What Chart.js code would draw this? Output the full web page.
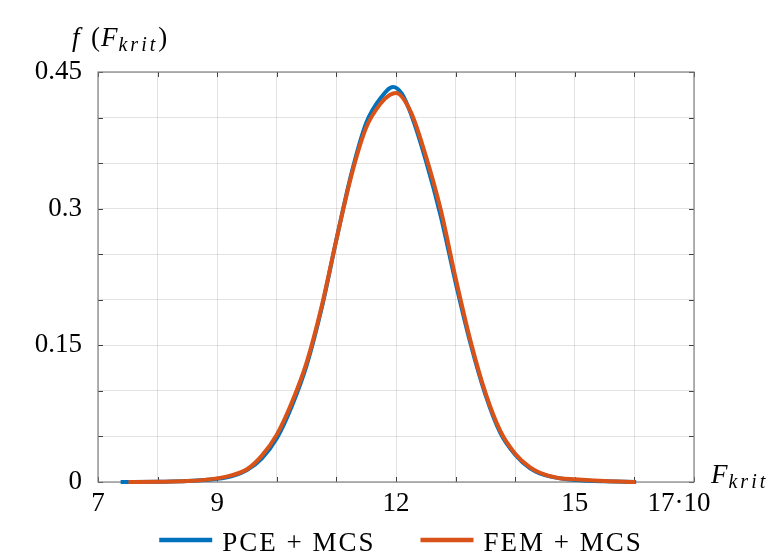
<!DOCTYPE html>
<html><head><meta charset="utf-8">
<script src="https://cdn.jsdelivr.net/npm/chart.js@4.4.1/dist/chart.umd.min.js"></script>
<style>html,body{margin:0;padding:0;background:#fff;overflow:hidden}</style>
</head><body>
<div style="width:772px;height:553px"><canvas id="c" width="772" height="553"></canvas></div>
<script>
// ---- data ----
const pceX = [7.38, 8.0, 8.5, 9.0, 9.25, 9.5, 9.75, 10.0, 10.25, 10.5, 10.75, 11.0, 11.25, 11.5, 11.75, 11.95, 12.1, 12.25, 12.5, 12.75, 13.0, 13.25, 13.5, 13.75, 14.0, 14.25, 14.5, 14.75, 15.0, 15.5, 16.03];
const pceY = [0, 0.0003, 0.001, 0.0035, 0.0065, 0.013, 0.026, 0.048, 0.083, 0.128, 0.19, 0.266, 0.338, 0.394, 0.422, 0.4335, 0.426, 0.404, 0.353, 0.292, 0.219, 0.152, 0.096, 0.054, 0.03, 0.015, 0.0075, 0.004, 0.0022, 0.0007, 0];
const femX = [7.51, 8.0, 8.5, 9.0, 9.25, 9.5, 9.75, 10.0, 10.25, 10.5, 10.75, 11.0, 11.25, 11.5, 11.75, 11.9, 12.0, 12.25, 12.5, 12.75, 13.0, 13.25, 13.5, 13.75, 14.0, 14.25, 14.5, 14.75, 15.0, 15.5, 16.02];
const femY = [0, 0.0003, 0.001, 0.004, 0.0075, 0.014, 0.029, 0.052, 0.087, 0.131, 0.192, 0.266, 0.336, 0.389, 0.416, 0.425, 0.427, 0.406, 0.358, 0.299, 0.224, 0.155, 0.098, 0.056, 0.031, 0.016, 0.008, 0.0042, 0.003, 0.001, 0];
const seriesLabels = ['PCE + MCS', 'FEM + MCS'];
const seriesColors = ['#0072BD', '#D95319'];
const xTickLabels = [7, 9, 12, 15, 17];
const yTickLabels = ['0', '0.15', '0.3', '0.45'];
const xScaleSuffix = '·10';
const xTitleMain = 'F', xTitleSub = 'krit';
const yTitleFunc = 'f';

const FAMILY = '"Liberation Serif", "Times New Roman", serif';
const FS = 27;

function pts(xs, ys) { return xs.map((x, i) => ({x: x, y: ys[i]})); }

function drawSub(ctx, text, x, y) {
  ctx.font = 'italic 20px ' + FAMILY;
  let cx = x;
  for (const ch of text) {
    ctx.fillText(ch, cx, y);
    cx += ctx.measureText(ch).width + 3;
  }
  return cx - 3;
}

const decor = {
  id: 'decor',
  beforeDatasetsDraw(chart) {
    const {ctx, chartArea: a, scales: {x, y}} = chart;
    ctx.save();
    ctx.strokeStyle = '#404040';
    ctx.lineWidth = 1;
    ctx.beginPath();
    x.ticks.forEach(t => {
      const px = Math.round(x.getPixelForValue(t.value)) + 0.5;
      ctx.moveTo(px, a.bottom); ctx.lineTo(px, a.bottom - 5);
      ctx.moveTo(px, a.top); ctx.lineTo(px, a.top + 5);
    });
    y.ticks.forEach(t => {
      const py = Math.round(y.getPixelForValue(t.value)) + 0.5;
      ctx.moveTo(a.left, py); ctx.lineTo(a.left + 5, py);
      ctx.moveTo(a.right, py); ctx.lineTo(a.right - 5, py);
    });
    ctx.stroke();
    ctx.strokeStyle = '#808080';
    ctx.lineWidth = 1.2;
    ctx.strokeRect(a.left, a.top, a.right - a.left, a.bottom - a.top);
    ctx.restore();
  },
  afterDraw(chart) {
    const {ctx, chartArea: a, scales: {x}} = chart;
    ctx.save();
    ctx.fillStyle = '#000';
    ctx.textBaseline = 'alphabetic';
    const last = xTickLabels[xTickLabels.length - 1];
    ctx.font = FS + 'px ' + FAMILY;
    ctx.textAlign = 'center';
    ctx.fillText(String(last) + xScaleSuffix, x.getPixelForValue(last) - 15, a.bottom + 29);
    ctx.textAlign = 'left';
    const ital = 'italic ' + FS + 'px ' + FAMILY;
    // x axis title
    let xx = a.right + 17;
    ctx.font = ital;
    ctx.fillText(xTitleMain, xx, a.bottom + 1);
    xx += ctx.measureText(xTitleMain).width + 1;
    drawSub(ctx, xTitleSub, xx, a.bottom + 6);
    // y axis title
    const by = a.top - 26;
    ctx.font = ital;
    ctx.fillText(yTitleFunc, a.left - 26, by);
    let yx = a.left - 7;
    ctx.font = FS + 'px ' + FAMILY;
    ctx.fillText('(', yx, by);
    yx += ctx.measureText('(').width + 1;
    ctx.font = ital;
    ctx.fillText(xTitleMain, yx, by);
    yx += ctx.measureText(xTitleMain).width + 1;
    yx = drawSub(ctx, xTitleSub, yx, by + 5) + 3;
    ctx.font = FS + 'px ' + FAMILY;
    ctx.fillText(')', yx, by);
    // legend
    ctx.font = FS + 'px ' + FAMILY;
    const spacing = 2;
    const lineLen = 53, gap = 10, itemGap = 47;
    const ds = chart.data.datasets;
    const widths = ds.map(d => { let w = 0; for (const ch of d.label) w += ctx.measureText(ch).width + spacing; return w - spacing; });
    let total = 0;
    widths.forEach((w, i) => { total += lineLen + gap + w + (i < widths.length - 1 ? itemGap : 0); });
    let lx = (a.left + a.right) / 2 - total / 2 + 4;
    const ly = 540;
    ds.forEach((d, i) => {
      ctx.strokeStyle = d.borderColor;
      ctx.lineWidth = 4.5;
      ctx.beginPath(); ctx.moveTo(lx, ly); ctx.lineTo(lx + lineLen, ly); ctx.stroke();
      lx += lineLen + gap;
      ctx.fillStyle = '#000';
      let cx = lx;
      for (const ch of d.label) { ctx.fillText(ch, cx, 551); cx += ctx.measureText(ch).width + spacing; }
      lx += widths[i] + itemGap;
    });
    ctx.restore();
  }
};

new Chart(document.getElementById('c'), {
  type: 'line',
  data: {
    datasets: [
      {label: seriesLabels[0], data: pts(pceX, pceY), borderColor: seriesColors[0], backgroundColor: seriesColors[0], borderWidth: 4, pointRadius: 0, cubicInterpolationMode: 'monotone', order: 1, clip: false},
      {label: seriesLabels[1], data: pts(femX, femY), borderColor: seriesColors[1], backgroundColor: seriesColors[1], borderWidth: 4, pointRadius: 0, cubicInterpolationMode: 'monotone', order: 0, clip: false}
    ]
  },
  options: {
    responsive: false,
    devicePixelRatio: 1,
    animation: false,
    layout: {padding: {top: 72, right: 78, left: 0, bottom: 0}},
    plugins: {legend: {display: false}, tooltip: {enabled: false}},
    scales: {
      x: {
        type: 'linear', min: 7, max: 17,
        afterFit: s => { s.height = 71; },
        border: {display: false},
        grid: {color: 'rgba(0,0,0,0.11)', drawTicks: false},
        ticks: {
          stepSize: 1, autoSkip: false, maxRotation: 0, padding: 6, color: '#000',
          font: {family: FAMILY, size: FS},
          callback: v => (xTickLabels.includes(v) && v !== xTickLabels[xTickLabels.length - 1]) ? String(v) : ''
        }
      },
      y: {
        type: 'linear', min: 0, max: 0.45,
        afterFit: s => { s.width = 98; },
        border: {display: false},
        grid: {color: 'rgba(0,0,0,0.11)', drawTicks: false},
        ticks: {
          stepSize: 0.05, autoSkip: false, padding: 16, color: '#000',
          font: {family: FAMILY, size: FS},
          callback: v => { const l = yTickLabels.find(s => Math.abs(parseFloat(s) - v) < 1e-9); return l === undefined ? '' : l; }
        }
      }
    }
  },
  plugins: [decor]
});
</script>
</body></html>
